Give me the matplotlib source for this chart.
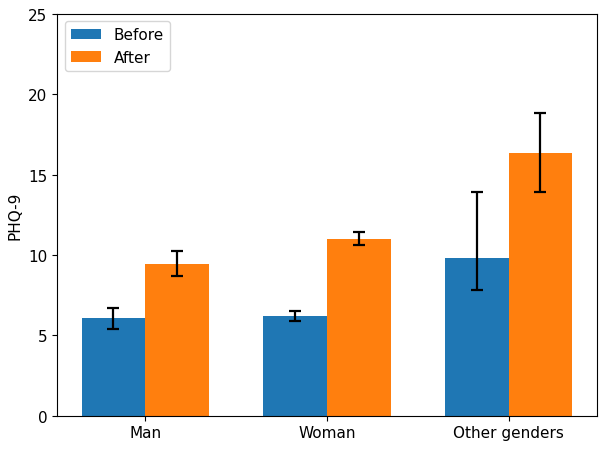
import numpy as np
import matplotlib
matplotlib.use("Agg")
import matplotlib.pyplot as plt

# PHQ-9 by gender
genders = ['Man', 'Woman', 'Other genders']
before = [6.05, 6.2, 9.8]
after = [9.45, 11.0, 16.35]
# asymmetric errors (lower, upper)
before_err_low = [0.63, 0.3, 2.0]
before_err_high = [0.66, 0.32, 4.1]
after_err_low = [0.78, 0.4, 2.45]
after_err_high = [0.78, 0.42, 2.45]

plt.rcParams['font.size'] = 11

x = np.arange(len(genders))
width = 0.35

fig, ax = plt.subplots(figsize=(6.09, 4.52), dpi=100)
fig.subplots_adjust(left=0.0936, right=0.980, top=0.9675, bottom=0.078)

ax.bar(x - width / 2, before, width, yerr=[before_err_low, before_err_high],
       capsize=4.5, error_kw={'elinewidth': 1.6, 'capthick': 1.6}, label='Before')
ax.bar(x + width / 2, after, width, yerr=[after_err_low, after_err_high],
       capsize=4.5, error_kw={'elinewidth': 1.6, 'capthick': 1.6}, label='After')

ax.set_ylabel('PHQ-9')
ax.set_xticks(x)
ax.set_xticklabels(genders)
ax.set_ylim(0, 25)
ax.legend(loc='upper left')

plt.savefig('out.png', dpi=100)
